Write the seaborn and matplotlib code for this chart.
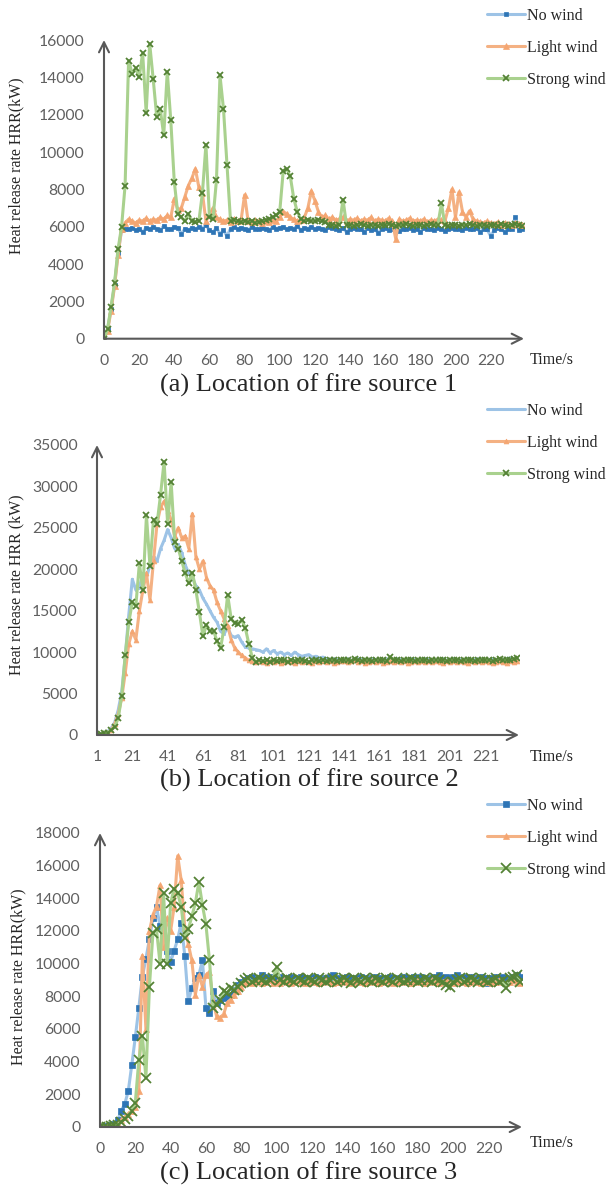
import numpy as np
import pandas as pd
import matplotlib
matplotlib.use('Agg')
import matplotlib.pyplot as plt
import seaborn as sns

sns.set_style('white')
plt.rcParams['font.family'] = ['Lato', 'DejaVu Sans']
SERIF = ['Liberation Serif', 'DejaVu Serif']

labels = ['No wind', 'Light wind', 'Strong wind']

# ---------------- (a) fire source 1 ----------------
a_time = np.arange(0, 240, 2)
a_no_wind = [
    0, 500, 1600, 2900, 4600, 5800, 5900, 5850, 5950, 5800,
    5900, 5700, 5950, 5850, 6000, 5900, 5800, 6050, 5900, 5850,
    6000, 5950, 5600, 5900, 5800, 5950, 5850, 6000, 5900, 6100,
    5800, 5700, 5950, 5600, 5800, 5500, 5900, 6000, 5850, 5950,
    5900, 5800, 6000, 5900, 5850, 5950, 5900, 5800, 6000, 5900,
    5950, 6000, 5850, 5950, 5900, 6050, 5800, 5950, 5900, 6000,
    5850, 5950, 5900, 5800, 6000, 5950, 5900, 5800, 5950, 5700,
    5900, 5950, 5850, 5900, 5700, 5950, 5800, 5900, 5650, 5900,
    5950, 5800, 5900, 5950, 5750, 5900, 5850, 5950, 5800, 5900,
    5700, 5950, 5850, 5900, 5800, 5950, 5900, 5750, 5900, 5950,
    5850, 5900, 5800, 5950, 5900, 5850, 5950, 5700, 5900, 5850,
    5500, 5800, 5950, 5900, 5700, 5850, 5900, 6500, 5800, 5850]
a_light_wind = [
    0, 400, 1500, 2800, 4500, 5900, 6200, 6400, 6300, 6200,
    6350, 6300, 6450, 6300, 6400, 6350, 6500, 6400, 6600, 6500,
    7500, 6900, 7000, 7600, 8200, 8600, 9100, 8100, 7800, 6300,
    6600, 7000, 6500, 6400, 6300, 6350, 6250, 6400, 6300, 6350,
    7700, 6300, 6250, 6350, 6300, 6200, 6300, 6250, 6350, 6300,
    6500, 6800, 6700, 6500, 6400, 6300, 6350, 6500, 7000, 7900,
    7400, 6800, 6500, 6600, 6400, 6500, 6350, 6400, 6500, 6300,
    6400, 6350, 6450, 6300, 6400, 6350, 6500, 6300, 6400, 6350,
    6300, 6450, 6300, 5350, 6400, 6300, 6350, 6450, 6300, 6350,
    6300, 6400, 6250, 6350, 6300, 6400, 6350, 6300, 7000, 8000,
    6500, 7850, 6800, 6500, 6850, 6400, 6300, 6250, 6200, 6300,
    6200, 6150, 6250, 6100, 6200, 6150, 6100, 6200, 6150, 6100]
a_strong_wind = [
    0, 500, 1700, 3000, 4800, 6000, 8200, 14900, 14200, 14500,
    14000, 15300, 12100, 15800, 13900, 11900, 12300, 10900, 14300, 11700,
    8400, 6700, 6500, 6300, 6700, 6300, 6250, 6300, 7800, 10400,
    6500, 6400, 8500, 14100, 12300, 9300, 6300, 6350, 6300, 6250,
    6300, 6250, 6300, 6200, 6250, 6300, 6350, 6400, 6500, 6600,
    6800, 9000, 9100, 8700, 7500, 6800, 6400, 6300, 6350, 6300,
    6300, 6350, 6300, 6250, 6100, 6100, 6050, 6100, 7450, 6100,
    6100, 6050, 6100, 6150, 6100, 6050, 6100, 6100, 6050, 6100,
    6100, 6150, 6100, 6050, 6100, 6100, 6150, 6100, 6050, 6100,
    6100, 6050, 6100, 6150, 6100, 6100, 7250, 6100, 6050, 6100,
    6100, 6050, 6100, 6100, 6150, 6100, 6050, 6100, 6100, 6050,
    6100, 6100, 6050, 6150, 6100, 6050, 6100, 6150, 6100, 6050]

# ---------------- (b) fire source 2 ----------------
b_time = np.arange(1, 241, 2)
b_no_wind = [
    0, 100, 200, 400, 800, 1500, 3000, 5200, 9500, 14500,
    18800, 17500, 17800, 19500, 19000, 20500, 21500, 21000, 22500, 23500,
    24800, 23800, 22500, 23000, 22000, 20500, 19500, 19000, 18000, 17500,
    16500, 15800, 15000, 14200, 13600, 12500, 12200, 13000, 12000, 11800,
    12000, 11200, 10600, 10500, 10400, 10300, 10200, 10000, 10400, 9900,
    10200, 9800, 10000, 9700, 9900, 9600, 10000, 9700, 9500, 9600,
    9700, 9400, 9500, 9300, 9400, 9200, 9100, 9200, 9100, 9000,
    9100, 9200, 9000, 9100, 9200, 9100, 9000, 9100, 9200, 9100,
    9000, 9100, 9200, 9100, 9000, 9200, 9100, 9000, 9100, 9200,
    9100, 9000, 9100, 9200, 9100, 9000, 9100, 9100, 9200, 9000,
    9100, 9200, 9000, 9100, 9100, 9200, 9000, 9100, 9200, 9100,
    9000, 9100, 9200, 9100, 9000, 9100, 9200, 9300, 9100, 9200]
b_light_wind = [
    0, 50, 150, 300, 600, 1300, 2500, 4500, 7500, 11000,
    12500, 11500, 15000, 17500, 19500, 16300, 21000, 25500, 27500, 28200,
    27000, 26000, 24000, 25000, 23800, 24000, 22500, 26700, 21500, 20000,
    21000, 19000, 18000, 17500, 16000, 15000, 14000, 13200, 11500, 10500,
    10000, 9600, 9300, 9000, 8900, 8800, 8900, 8800, 8700, 8900,
    8800, 8900, 8700, 8800, 8900, 8800, 8700, 8900, 8800, 8900,
    8800, 8700, 8900, 8800, 8900, 8800, 8900, 8700, 8800, 8900,
    8900, 8800, 8900, 9000, 8800, 8900, 8700, 8800, 8900, 8800,
    8900, 8700, 8800, 8900, 8800, 8900, 8800, 8900, 8700, 8800,
    8900, 8800, 8900, 8800, 8900, 8800, 8900, 8800, 8700, 8900,
    8800, 8900, 8800, 8900, 8800, 8700, 8900, 8800, 8900, 8800,
    8900, 8800, 8700, 8800, 8900, 8800, 8700, 8900, 8800, 8900]
b_strong_wind = [
    0, 100, 200, 300, 600, 1000, 2000, 4700, 9700, 13600,
    16000, 15600, 20700, 17500, 26500, 20400, 26000, 25500, 29000, 33000,
    25500, 30500, 23300, 22500, 21000, 19500, 18300, 19600, 17500, 14800,
    11900, 13300, 12500, 12600, 11300, 10500, 13000, 16900, 14000, 13500,
    13400, 13900, 12900, 11000, 9300, 8800, 9000, 8900, 9100, 8800,
    9000, 8900, 9100, 9000, 8800, 9100, 8900, 9000, 9100, 8900,
    8800, 9000, 9100, 8900, 9000, 8900, 9100, 9000, 8900, 9100,
    9000, 9100, 8900, 9200, 9000, 8900, 9100, 9000, 8900, 9000,
    9100, 9000, 8900, 9400, 9100, 9000, 8900, 9100, 9000, 9100,
    8900, 9000, 9100, 9000, 8900, 9100, 9000, 9100, 9000, 8900,
    9100, 9000, 9100, 8900, 9000, 9100, 9000, 8900, 9100, 9000,
    9100, 9000, 8900, 9100, 9200, 9000, 9100, 9000, 9200, 9300]

# ---------------- (c) fire source 3 ----------------
c_time = np.arange(0, 240, 2)
c_no_wind = [
    0, 0, 50, 100, 200, 400, 1000, 1400, 2200, 3800,
    5500, 7300, 9200, 10300, 11500, 12800, 13500, 12300, 11500, 10800,
    10100, 10800, 11500, 12500, 10500, 7700, 8500, 9100, 9300, 10200,
    7300, 7000, 8300, 7600, 7800, 7900, 8000, 8100, 8400, 8700,
    8900, 9000, 9100, 9200, 9000, 9100, 9300, 9200, 9100, 9200,
    9100, 9200, 9000, 9100, 9200, 9100, 9000, 9200, 9100, 9000,
    9100, 9200, 9100, 9000, 9100, 9200, 9300, 9100, 9000, 9100,
    9200, 9100, 9000, 9100, 9200, 9100, 9000, 9100, 9200, 9100,
    9000, 9100, 9200, 9100, 9000, 9100, 9200, 9100, 9000, 9200,
    9100, 9200, 9100, 9000, 9100, 9200, 9300, 9100, 9200, 9100,
    9200, 9300, 9100, 9200, 9100, 9200, 9000, 9100, 9200, 9100,
    8800, 9100, 9200, 9100, 9200, 9100, 9000, 9200, 9300, 9200]
c_light_wind = [
    0, 0, 0, 50, 100, 200, 400, 600, 800, 1000,
    1200, 2200, 10500, 6000, 12000, 13000, 13500, 14800, 11000, 12800,
    12000, 13500, 16600, 15100, 12200, 11200, 10200, 8100, 9300, 8600,
    9300, 9500, 7700, 6800, 6700, 6900, 7600, 7800, 8100, 8300,
    8600, 8800, 8900, 8800, 8900, 9000, 8800, 8900, 9000, 8800,
    8900, 8800, 9000, 8900, 8800, 8900, 9000, 8900, 8800, 8900,
    9000, 8900, 8800, 8900, 9000, 8900, 8800, 8900, 8900, 9000,
    8900, 8800, 8900, 9000, 8900, 8800, 8900, 9000, 8900, 8800,
    8900, 9000, 8900, 8800, 8900, 8900, 9000, 8900, 8800, 8900,
    9000, 8900, 8800, 8900, 9000, 8900, 8800, 8900, 9000, 8900,
    8800, 8900, 9000, 8900, 8800, 8900, 9000, 8900, 8800, 8900,
    8900, 8800, 8900, 9000, 8900, 8800, 8900, 9000, 8900, 8800]
c_strong_wind = [
    0, 0, 0, 50, 100, 150, 300, 500, 700, 1000,
    1500, 4100, 5600, 3000, 8600, 11900, 12100, 10000, 14300, 10000,
    13700, 14600, 14300, 13500, 11600, 12100, 12900, 13700, 15000, 13600,
    12400, 10200, 7300, 7500, 7800, 8300, 8200, 8500, 8400, 8600,
    8800, 9000, 9100, 8900, 9000, 9100, 9000, 8900, 9000, 9100,
    9800, 9000, 8900, 9100, 9000, 8900, 9100, 9000, 8900, 9100,
    9000, 8900, 9100, 9000, 8900, 9000, 9100, 8900, 9000, 9100,
    9000, 8800, 9100, 9000, 8900, 9100, 9000, 8900, 9100, 9000,
    8900, 9100, 9000, 8900, 9100, 9000, 8900, 9000, 9100, 9000,
    8900, 9000, 9100, 9000, 8900, 9100, 9000, 8900, 8700, 8600,
    8900, 9000, 9100, 8900, 9000, 9100, 9000, 8900, 9100, 9000,
    8900, 9000, 9100, 8900, 9000, 8500, 9100, 9200, 9300, 8900]

# line colour, marker, marker colour
line_cols = ['#9DC3E6', '#F4B183', '#A9D18E']
mark_cols = ['#2E75B6', '#F4A672', '#548235']
mark_shapes = ['s', '^', 'x']

W, H = 611, 1185
fig = plt.figure(figsize=(W / 100, H / 100), dpi=100)


def px(x0, y_top, x1, y_bot):
    return [x0 / W, 1 - y_bot / H, (x1 - x0) / W, (y_bot - y_top) / H]


def draw_panel(rect, t, series, xlim, ylim, xticks, yticks, msizes, ylabel,
               ylab_pos, caption, cap_y, time_y, leg_top):
    ax = fig.add_axes(rect)
    df = pd.DataFrame({'t': t, labels[0]: series[0], labels[1]: series[1],
                       labels[2]: series[2]})
    for i, name in enumerate(labels):
        mc = mark_cols[i] if msizes[i] > 0 else line_cols[i]
        sns.lineplot(data=df, x='t', y=name, ax=ax, color=line_cols[i],
                     lw=2.2, marker=mark_shapes[i],
                     markersize=max(msizes[i], 2),
                     markerfacecolor=mc, markeredgecolor=mc,
                     markeredgewidth=1.3 if mark_shapes[i] == 'x' else 0.5,
                     estimator=None, sort=False, label=name)
    ax.set_xlim(*xlim)
    ax.set_ylim(*ylim)
    ax.set_xticks(xticks)
    ax.set_yticks(yticks)
    ax.set_xlabel('')
    ax.set_ylabel('')
    sns.despine(ax=ax, left=True, bottom=True)
    ax.tick_params(axis='both', length=0, labelsize=11.3,
                   labelcolor='#606060')
    ax.tick_params(axis='x', pad=11)
    ax.tick_params(axis='y', pad=14)
    arrow = dict(arrowstyle='->', color='#595959', lw=1.5,
                 mutation_scale=18, shrinkA=0, shrinkB=0)
    ax.annotate('', xy=(1, 0), xytext=(0, 0), xycoords='axes fraction',
                arrowprops=arrow, annotation_clip=False)
    ax.annotate('', xy=(0, 1), xytext=(0, 0), xycoords='axes fraction',
                arrowprops=arrow, annotation_clip=False)
    ax.legend(loc='upper left', bbox_to_anchor=(487 / W, 1 - leg_top / H),
              bbox_transform=fig.transFigure, frameon=False,
              prop={'family': SERIF, 'size': 11.5}, handlelength=2.4,
              handletextpad=0.1, labelspacing=1.0, borderpad=0,
              borderaxespad=0)
    fig.text(ylab_pos[0] / W, 1 - ylab_pos[1] / H, ylabel, rotation=90,
             ha='center', va='center', fontsize=11.5, family=SERIF)
    fig.text(530 / W, 1 - time_y / H, 'Time/s', ha='left', va='center',
             fontsize=11.5, family=SERIF)
    fig.text(309 / W, 1 - cap_y / H, caption, ha='center', va='center',
             fontsize=19, family=SERIF)
    return ax


draw_panel(px(104, 40, 524, 338.7), a_time,
           [a_no_wind, a_light_wind, a_strong_wind],
           (0, 239), (0, 16000), range(0, 221, 20), range(0, 16001, 2000),
           [3, 5, 4.5], 'Heat release rate HRR(kW)', (16, 166),
           '(a) Location of fire source 1', 385, 360, 8)

draw_panel(px(97, 445, 519, 735), b_time,
           [b_no_wind, b_light_wind, b_strong_wind],
           (1, 240), (0, 35000), range(1, 222, 20), range(0, 35001, 5000),
           [0, 3.5, 4], 'Heat release rate HRR (kW)', (16, 585),
           '(b) Location of fire source 2', 780, 757, 403)

draw_panel(px(100, 833, 522, 1127), c_time,
           [c_no_wind, c_light_wind, c_strong_wind],
           (0, 239), (0, 18000), range(0, 221, 20), range(0, 18001, 2000),
           [4, 5, 6.5], 'Heat release rate HRR(kW)', (18, 977),
           '(c) Location of fire source 3', 1173, 1143, 798)

fig.savefig('out.png', dpi=100)
